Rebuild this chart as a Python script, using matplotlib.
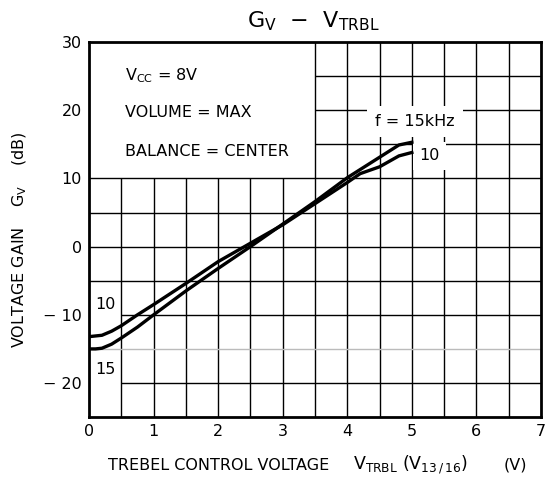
import numpy as np
import matplotlib
matplotlib.use("Agg")
import matplotlib.pyplot as plt

plt.rcParams['font.family'] = ['DejaVu Sans']

# trebel control voltage (V)
v_trbl = [0, 0.1, 0.2, 0.35, 0.5, 0.75, 1.0, 1.5, 2.0, 2.5, 3.0, 3.5, 4.0, 4.2, 4.5, 4.8, 5.0]
# voltage gain (dB) per frequency
gv_15k = [-15.0, -15.0, -14.9, -14.3, -13.4, -11.8, -10.0, -6.5, -3.2, 0.0, 3.3, 6.6, 10.1, 11.3, 13.1, 14.9, 15.3]
gv_10k = [-13.2, -13.1, -13.0, -12.4, -11.6, -10.0, -8.5, -5.4, -2.2, 0.5, 3.2, 6.3, 9.4, 10.7, 11.7, 13.3, 13.8]

x_ticks = [0, 1, 2, 3, 4, 5, 6, 7]
y_ticks = [-20, -10, 0, 10, 20, 30]
y_tick_labels = ['\u2212 20', '\u2212 10', '0', '10', '20', '30']

fig = plt.figure(figsize=(5.6, 4.8), dpi=100)
ax = fig.add_axes([0.159, 0.131, 0.807, 0.7815])
ax.set_xlim(0, 7)
ax.set_ylim(-25, 30)

# grid lines (upper-left area is left blank for the conditions box)
gc = 'black'
for xv in np.arange(0.5, 7, 0.5):
    if xv < 3.5:
        ax.vlines(xv, -25, 10, color=gc, lw=1.0, zorder=1)
    else:
        ax.vlines(xv, -25, 30, color=gc, lw=1.0, zorder=1)
for yv in np.arange(-20, 30, 5):
    if yv > 10:
        ax.hlines(yv, 3.5, 7, color=gc, lw=1.0, zorder=1)
    elif yv in (-10, -20):
        ax.hlines(yv, 0.5, 7, color=gc, lw=1.0, zorder=1)
    elif yv == -15:
        ax.hlines(yv, 0, 7, color='#bbbbbb', lw=1.0, zorder=1)
    else:
        ax.hlines(yv, 0, 7, color=gc, lw=1.0, zorder=1)

ax.plot(v_trbl, gv_15k, color='black', lw=2.4, zorder=4)
ax.plot(v_trbl, gv_10k, color='black', lw=2.4, zorder=4)

fs = 11.5
ax.text(0.55, 25, r'V$_{\rm CC}$ = 8V', fontsize=fs, va='center', ha='left')
ax.text(0.55, 19.6, 'VOLUME = MAX', fontsize=fs, va='center', ha='left')
ax.text(0.55, 14.0, 'BALANCE = CENTER', fontsize=fs, va='center', ha='left')

ax.text(5.05, 18.3, 'f = 15kHz', fontsize=fs, ha='center', va='center',
        bbox=dict(facecolor='white', edgecolor='none', boxstyle='square,pad=0.5'), zorder=3)
ax.text(5.27, 13.3, '10', fontsize=fs, ha='center', va='center',
        bbox=dict(facecolor='white', edgecolor='none', boxstyle='square,pad=0.4'), zorder=3)
ax.text(0.26, -8.5, '10', fontsize=fs, ha='center', va='center')
ax.text(0.26, -18.0, '15', fontsize=fs, ha='center', va='center')

ax.set_xticks(x_ticks)
ax.set_yticks(y_ticks)
ax.set_yticklabels(y_tick_labels)
ax.tick_params(length=0, labelsize=11.5, pad=5)
for s in ax.spines.values():
    s.set_linewidth(2.0)

fig.text(313 / 560, 1 - 21 / 480, 'G$_{\\rm V}$  \u2212  V$_{\\rm TRBL}$',
         fontsize=16, ha='center', va='center')
# x label in three pieces, spaced as in the original sheet
xl_y = 1 - 465 / 480
fig.text(108 / 560, xl_y, 'TREBEL CONTROL VOLTAGE', fontsize=11.5, ha='left', va='center')
fig.text(353 / 560, xl_y, r'V$_{\rm TRBL}$ (V$_{\rm 13\,/\,16}$)', fontsize=12.5, ha='left', va='center')
fig.text(504 / 560, xl_y, '(V)', fontsize=11.5, ha='left', va='center')
fig.text(20 / 560, 1 - 240 / 480, r'VOLTAGE GAIN    G$_{\rm V}$    (dB)',
         fontsize=11.5, ha='center', va='center', rotation=90)

fig.savefig('out.png', dpi=100)
